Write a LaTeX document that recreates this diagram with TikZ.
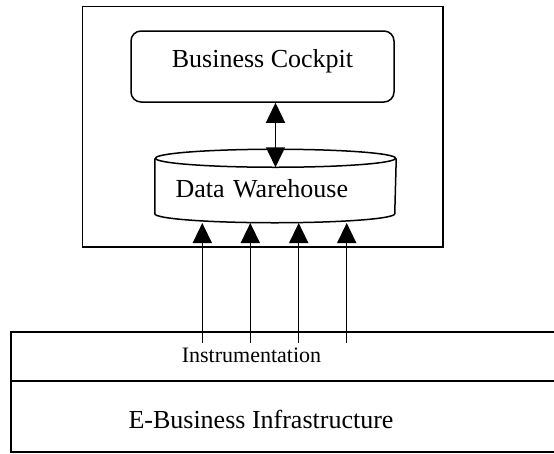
\documentclass[tikz,border=0pt]{standalone}
\usepackage{fontspec}
\setmainfont{Liberation Serif}
\usetikzlibrary{arrows.meta}
\begin{document}
\begin{tikzpicture}[x=1pt,y=-1pt,
  line width=1.5pt,
  big/.style={font=\fontsize{26}{30}\selectfont},
  small/.style={font=\fontsize{22}{26}\selectfont},
  frame/.style={draw, inner sep=0pt},
  flow/.style={-{Triangle[width=19pt,length=20pt]}},
  both/.style={{Triangle[width=19pt,length=20pt]}-{Triangle[width=19pt,length=20pt]}}]
\useasboundingbox (0,0) rectangle (554,453);

% outer system frame
\draw (82.7,6.7) rectangle (443,247);

% business cockpit
\node[frame, big, rounded corners=10pt, minimum width=263pt, minimum height=71pt,
      text height=12pt, text depth=11pt] (cockpit) at (262.5,66.5) {Business Cockpit};

% data warehouse cylinder (outline drawn around the node)
\node[big, inner ysep=0pt, inner xsep=20pt, text width=200pt, align=left,
      minimum height=54pt, text height=22pt, text depth=0pt] (dw) at (275.5,186) {Data Warehouse};
\draw (dw.north west) -- (dw.south west) arc[start angle=180, end angle=360, x radius=120pt, y radius=9pt]
      -- (dw.north east);
\draw (dw.north) ellipse[x radius=120pt, y radius=9pt];
\coordinate (dwtop) at ([yshift=-9pt]dw.north);
\coordinate (cockpitport) at (dwtop |- cockpit.south);

\draw[both] (cockpitport) -- (dwtop);

% infrastructure block
\node[frame, minimum width=549pt, minimum height=49pt] (instr) at (285.5,356.5) {};
\node[frame, minimum width=549pt, minimum height=71pt] (infra) at (285.5,416.5) {};
\node[small, anchor=base] (instrlabel) at (251.5,362) {Instrumentation};
\node[big, anchor=base] (infralabel) at (261,428) {E-Business Infrastructure};

% instrumentation feeds
\foreach \i/\x in {1/202.3,2/250.3,3/298.7,4/346.7}{
  \coordinate (s\i) at (\x,343);
  \coordinate (t\i) at (\x,223);
  \draw[flow] (s\i) -- (t\i);
}
\end{tikzpicture}
\end{document}
